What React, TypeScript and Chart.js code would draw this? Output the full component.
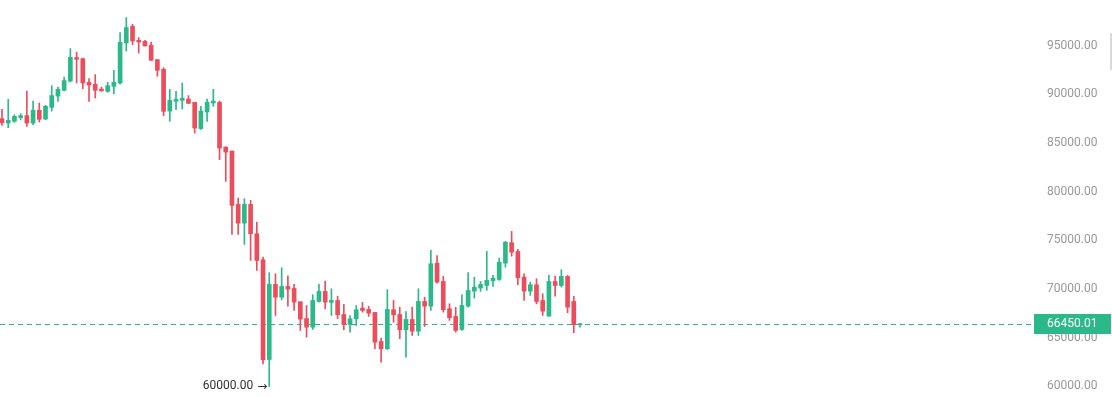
import React, { useEffect, useRef } from 'react';
import { Chart, registerables } from 'chart.js';

Chart.register(...registerables);

// OHLC values (one candle per period)
const opens = [
  87490, 87040, 87220, 87600, 87800, 87040, 88350, 87450, 88650, 89810,
  90400, 91350, 93760, 93650, 91220, 91020, 90530, 90300, 90810, 91150,
  95260, 96970, 95530, 95430, 95020, 93550, 92560, 88270, 89270, 89370,
  89510, 89170, 86470, 88170, 89100, 89170, 84580, 84170, 78690, 76770,
  78690, 75680, 73010, 62770, 70480, 69170, 70270, 70060, 68700, 66980,
  66090, 68730, 69760, 68630, 68830, 67390, 66370, 66950, 68040, 67910,
  67600, 64620, 63870, 67880, 67390, 65820, 66880, 65680, 68730, 68250,
  72660, 70780, 67980, 67190, 65850, 68250, 69790, 70100, 70370, 70860,
  70990, 72660, 74760, 73860, 71220, 69790, 70440, 68830, 67220, 70780,
  70370, 71300, 68730, 66340,
];
const highs = [
  88450, 89470, 87900, 88010, 90330, 89300, 89100, 88860, 90880, 90740,
  91770, 94680, 94330, 93700, 91600, 92010, 90740, 91220, 92450, 96320,
  97870, 97180, 95810, 95530, 95360, 93550, 92730, 90500, 90300, 91150,
  89860, 89170, 88760, 89510, 90500, 89300, 84580, 84170, 79340, 79280,
  79100, 76870, 73280, 71680, 71570, 72190, 71370, 70480, 68700, 68320,
  69420, 70480, 70810, 70030, 69270, 68420, 67290, 68320, 68630, 68220,
  67600, 64960, 69930, 68830, 68140, 67700, 68140, 70030, 69170, 73970,
  73450, 71300, 68490, 68140, 69420, 71680, 71220, 70780, 73860, 71400,
  73180, 74890, 75920, 74070, 71570, 70710, 71060, 69520, 71400, 71330,
  71990, 71400, 69270, 66450.01,
];
const lows = [
  86800, 86570, 87110, 87390, 86700, 86880, 87140, 87390, 88270, 89270,
  90330, 91250, 91150, 90570, 89270, 89610, 90330, 90190, 90060, 91020,
  94430, 95090, 94230, 94950, 93480, 91840, 87800, 87220, 88420, 88480,
  89060, 86010, 86390, 87220, 88760, 83280, 81050, 75610, 75610, 74580,
  72940, 71910, 62330, 60000, 67290, 68900, 68250, 67810, 65750, 65060,
  65850, 68660, 67980, 67290, 66950, 65820, 65580, 66260, 67630, 67190,
  63870, 62500, 63800, 66600, 64900, 63010, 65240, 65240, 66160, 67810,
  70610, 67630, 66780, 65580, 65750, 68140, 69070, 69760, 69860, 70270,
  70890, 72250, 73380, 70440, 68830, 69350, 68490, 67290, 67220, 69270,
  70200, 67570, 65520, 66090,
];
const closes = [
  87080, 87320, 87730, 87800, 87040, 88350, 87420, 88760, 89860, 90500,
  91400, 93790, 93580, 91150, 90940, 90400, 90330, 90880, 91220, 95330,
  96840, 95460, 95360, 94950, 93480, 92450, 88240, 89370, 89470, 89580,
  89060, 86530, 88270, 89170, 89300, 84470, 84060, 78590, 76770, 78690,
  75680, 72940, 62740, 70480, 69170, 70270, 69990, 68660, 66910, 66090,
  68830, 69760, 68660, 68830, 67360, 66370, 66950, 67880, 67810, 67530,
  64550, 63870, 67910, 67360, 65820, 66880, 65680, 68730, 68250, 72600,
  70710, 67880, 67060, 65750, 68320, 69860, 70200, 70480, 70890, 71120,
  72770, 74820, 73790, 71160, 69790, 70440, 68730, 67730, 70780, 70370,
  71300, 68140, 66340, 66450.01,
];
const lastPrice = 66450.01;
const yTicks = [60000, 65000, 70000, 75000, 80000, 85000, 90000, 95000, 100000];

const GREEN = '#2bb98a';
const RED = '#ec4d5c';
const FONT = "Roboto, 'Open Sans', sans-serif";

export default function App() {
  const ref = useRef<HTMLCanvasElement>(null);

  useEffect(() => {
    document.body.style.margin = '0';
    const canvas = ref.current;
    if (!canvas) return;
    const idx = opens.map((_, i) => i);
    const bodies = idx.map((i) => ({
      x: i,
      y: [Math.min(opens[i], closes[i]), Math.max(opens[i], closes[i])],
    }));
    const wicks = idx.map((i) => ({ x: i, y: [lows[i], highs[i]] }));
    const colors = idx.map((i) => (closes[i] >= opens[i] ? GREEN : RED));

    const pricePlugin = {
      id: 'priceLine',
      beforeDatasetsDraw(chart: any) {
        const { ctx, chartArea, scales } = chart;
        const y = Math.round(scales.y.getPixelForValue(lastPrice)) + 0.5;
        ctx.save();
        ctx.strokeStyle = GREEN;
        ctx.lineWidth = 1;
        ctx.setLineDash([5, 4]);
        ctx.beginPath();
        ctx.moveTo(chartArea.left, y);
        ctx.lineTo(chartArea.right, y);
        ctx.stroke();
        ctx.restore();
      },
      afterDraw(chart: any) {
        const { ctx, chartArea, scales } = chart;
        const y = scales.y.getPixelForValue(lastPrice);
        ctx.save();
        ctx.fillStyle = GREEN;
        ctx.fillRect(chartArea.right - 1, Math.round(y) - 10, 77, 20);
        ctx.fillStyle = '#ffffff';
        ctx.font = `12px ${FONT}`;
        ctx.textBaseline = 'middle';
        ctx.textAlign = 'left';
        ctx.fillText(lastPrice.toFixed(2), chartArea.right + 12, y);
        // lowest low annotation
        const minVal = Math.min(...lows);
        const minIdx = lows.indexOf(minVal);
        const mx = scales.x.getPixelForValue(minIdx);
        const my = scales.y.getPixelForValue(minVal);
        ctx.fillStyle = '#333333';
        ctx.textAlign = 'right';
        ctx.font = "12px 'DejaVu Sans', sans-serif";
        const arrow = '\u2192';
        ctx.fillText(arrow, mx - 2, my);
        const aw = ctx.measureText(arrow).width;
        ctx.font = `12px ${FONT}`;
        ctx.fillText(minVal.toFixed(2), mx - 2 - aw - 4, my);
        ctx.restore();
      },
    };

    const chart = new Chart(canvas, {
      type: 'bar',
      data: {
        datasets: [
          {
            data: bodies as any,
            backgroundColor: colors,
            barThickness: 4,
            minBarLength: 1,
            grouped: false,
            borderWidth: 0,
          } as any,
          {
            data: wicks as any,
            backgroundColor: colors,
            barThickness: 1,
            minBarLength: 1,
            grouped: false,
            borderWidth: 0,
          } as any,
        ],
      },
      options: {
        animation: false,
        responsive: false,
        maintainAspectRatio: false,
        events: [],
        layout: { padding: 0 },
        plugins: { legend: { display: false }, tooltip: { enabled: false } },
        scales: {
          x: {
            type: 'linear',
            display: false,
            offset: false,
            min: -0.322,
            max: 166.21,
            grid: { display: false },
          },
          y: {
            type: 'linear',
            position: 'right',
            min: 56869,
            max: 101723,
            grid: { display: false, drawTicks: false },
            border: { display: false },
            ticks: {
              padding: 12,
              color: '#999999',
              font: { family: FONT, size: 12 },
              callback: (v: any) => Number(v).toFixed(2),
            },
            afterBuildTicks: (s: any) => {
              s.ticks = yTicks.map((v) => ({ value: v }));
            },
            afterFit: (s: any) => {
              s.width = 77;
              s.paddingTop = 0;
              s.paddingBottom = 0;
            },
          } as any,
        },
      },
      plugins: [pricePlugin],
    });
    return () => chart.destroy();
  }, []);

  return (
    <div
      style={{
        position: 'absolute',
        left: 0,
        top: 0,
        width: 1112,
        height: 397,
        overflow: 'hidden',
        background: '#ffffff',
      }}
    >
      <canvas
        ref={ref}
        width={1112}
        height={437}
        style={{ position: 'absolute', left: 0, top: -20, width: 1112, height: 437 }}
      />
      <div
        style={{
          position: 'absolute',
          left: 1110,
          top: 33,
          width: 2,
          height: 37,
          background: '#d9d9d9',
        }}
      />
    </div>
  );
}
